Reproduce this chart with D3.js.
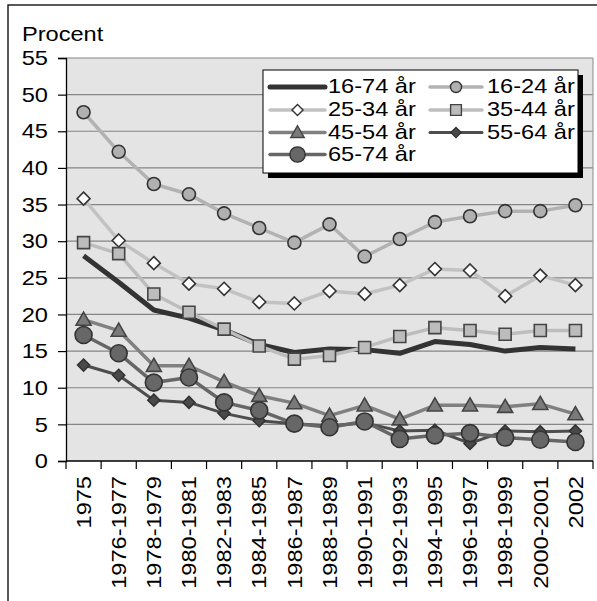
<!DOCTYPE html>
<html><head><meta charset="utf-8">
<script src="https://cdn.jsdelivr.net/npm/d3@7"></script>
<style>body{margin:0;background:#fff}svg{display:block}text{font-family:"Liberation Sans",Arial,sans-serif;fill:#000}</style>
</head><body>
<svg id="c" width="597" height="601"></svg>
<script>
const categories = ["1975","1976-1977","1978-1979","1980-1981","1982-1983","1984-1985","1986-1987","1988-1989","1990-1991","1992-1993","1994-1995","1996-1997","1998-1999","2000-2001","2002"];
const yTicks = [0,5,10,15,20,25,30,35,40,45,50,55];
const s16_74 = [28.0,24.4,20.6,19.5,17.9,15.9,14.8,15.3,15.2,14.7,16.3,15.9,15.0,15.5,15.3];
const s16_24 = [47.6,42.2,37.8,36.4,33.8,31.8,29.8,32.3,27.9,30.3,32.6,33.4,34.1,34.1,34.9];
const s25_34 = [35.8,30.1,27.0,24.2,23.5,21.7,21.5,23.2,22.8,24.0,26.2,26.0,22.5,25.3,24.0];
const s35_44 = [29.8,28.3,22.8,20.3,18.0,15.7,13.9,14.4,15.5,17.0,18.2,17.8,17.3,17.8,17.8];
const s45_54 = [19.3,17.8,13.0,13.0,10.8,8.9,7.9,6.2,7.6,5.7,7.6,7.6,7.4,7.8,6.4];
const s55_64 = [13.1,11.7,8.3,8.0,6.5,5.5,5.1,4.8,5.2,4.1,4.2,2.4,4.1,4.0,4.1];
const s65_74 = [17.2,14.7,10.7,11.4,8.0,6.9,5.1,4.6,5.4,3.0,3.5,3.8,3.2,2.9,2.6];
const seriesNames = ["16-74 år","16-24 år","25-34 år","35-44 år","45-54 år","55-64 år","65-74 år"];
const yTitle = "Procent";

const FS = 20, SX = 1.18;
const markerPaths = {
  none: null,
  circle: r => `M${r},0A${r},${r} 0 1,1 ${-r},0A${r},${r} 0 1,1 ${r},0Z`,
  diamond: h => `M0,${-h}L${h},0L0,${h}L${-h},0Z`,
  square: h => `M${-h},${-h}H${h}V${h}H${-h}Z`,
  triangle: h => `M0,${-h}L${h},${h*0.75}L${-h},${h*0.75}Z`
};
const series = [
  {name:seriesNames[0], values:s16_74, line:"#333333", lw:5, marker:"none"},
  {name:seriesNames[1], values:s16_24, line:"#b2b2b2", lw:3.5, marker:"circle", ms:6.5, fill:"#b0b0b0", stroke:"#333"},
  {name:seriesNames[2], values:s25_34, line:"#c2c2c2", lw:3.5, marker:"diamond", ms:6.5, fill:"#ffffff", stroke:"#333"},
  {name:seriesNames[3], values:s35_44, line:"#bdbdbd", lw:3.5, marker:"square", ms:6, fill:"#bcbcbc", stroke:"#444"},
  {name:seriesNames[4], values:s45_54, line:"#808080", lw:3.5, marker:"triangle", ms:7.5, fill:"#7a7a7a", stroke:"#444"},
  {name:seriesNames[5], values:s55_64, line:"#4d4d4d", lw:3, marker:"diamond", ms:6, fill:"#4a4a4a", stroke:"#333"},
  {name:seriesNames[6], values:s65_74, line:"#666666", lw:3.5, marker:"circle", ms:8.5, fill:"#676767", stroke:"#333"}
];

const svg = d3.select("#c");
const L = 66, R = 593, T = 58, B = 461;
const x = d3.scaleBand().domain(categories).range([L, R]);
const y = d3.scaleLinear().domain([0,55]).range([B, T]);

// outer frame
svg.append("rect").attr("x",8).attr("y",5).attr("width",700).attr("height",700)
  .attr("fill","#fff").attr("stroke","#000").attr("stroke-width",1.3);

// plot area
svg.append("rect").attr("x",L).attr("y",T).attr("width",R-L).attr("height",B-T).attr("fill","#e4e4e4");
svg.append("g").selectAll("line").data(yTicks.filter(d=>d>0)).join("line")
  .attr("x1",L).attr("x2",R).attr("y1",d=>y(d)).attr("y2",d=>y(d))
  .attr("stroke","#858585").attr("stroke-width",1.2);
svg.append("line").attr("x1",R).attr("x2",R).attr("y1",T).attr("y2",B).attr("stroke","#9a9a9a").attr("stroke-width",1.2);

// y axis
const ya = svg.append("g").attr("transform",`translate(${L},0)`)
  .call(d3.axisLeft(y).tickValues(yTicks).tickSize(8).tickFormat(""));
ya.select(".domain").attr("stroke","#000").attr("stroke-width",1.3);
ya.selectAll(".tick line").attr("stroke","#000").attr("stroke-width",1.2);
svg.append("g").selectAll("text").data(yTicks).join("text")
  .attr("transform",d=>`translate(48,${y(d)}) scale(${SX},1)`)
  .attr("dy","0.36em").attr("text-anchor","end").attr("font-size",FS).text(d=>d);

// x axis
const bounds = categories.map(c=>x(c)).concat([R]);
svg.append("line").attr("x1",L).attr("x2",R).attr("y1",B).attr("y2",B).attr("stroke","#000").attr("stroke-width",1.3);
svg.append("g").selectAll("line").data(bounds).join("line")
  .attr("x1",d=>d).attr("x2",d=>d).attr("y1",B).attr("y2",B+8).attr("stroke","#000").attr("stroke-width",1.2);
svg.append("g").selectAll("text").data(categories).join("text")
  .attr("transform",d=>`translate(${x(d)+x.bandwidth()/2},476) rotate(-90) scale(${SX},1)`)
  .attr("dy","0.36em").attr("text-anchor","end").attr("font-size",FS).text(d=>d);

// y title
svg.append("text").attr("transform",`translate(22,41) scale(${SX},1)`).attr("font-size",FS).text(yTitle);

// series
const cx = i => x(categories[i]) + x.bandwidth()/2;
series.forEach(s => {
  const g = svg.append("g");
  g.append("path").datum(s.values)
    .attr("d", d3.line().x((d,i)=>cx(i)).y(d=>y(d)))
    .attr("fill","none").attr("stroke",s.line).attr("stroke-width",s.lw).attr("stroke-linejoin","round");
  if (s.marker !== "none") {
    g.selectAll("path.m").data(s.values).join("path").attr("class","m")
      .attr("transform",(d,i)=>`translate(${cx(i)},${y(d)})`)
      .attr("d", markerPaths[s.marker](s.ms))
      .attr("fill",s.fill).attr("stroke",s.stroke).attr("stroke-width",1.6);
  }
});

// legend
const lg = svg.append("g");
lg.append("rect").attr("x",268).attr("y",75).attr("width",315).attr("height",103).attr("fill","#000");
lg.append("rect").attr("x",263).attr("y",70).attr("width",315).attr("height",103).attr("fill","#fff").attr("stroke","#000").attr("stroke-width",1);
const rowsY = [86, 109, 131.5, 153.5];
series.forEach((s,k) => {
  const col = k % 2, row = Math.floor(k/2);
  const x0 = col ? 430 : 270, x1 = col ? 482 : 325, tx = col ? 487 : 328;
  const yy = rowsY[row];
  lg.append("line").attr("x1",x0).attr("x2",x1).attr("y1",yy+1).attr("y2",yy+1)
    .attr("stroke",s.line).attr("stroke-width",s.lw).attr("stroke-linecap","round");
  if (s.marker !== "none") {
    const scale = s.marker==="circle" && s.ms<7 ? 0.85 : (s.marker==="diamond" ? 0.85 : 0.9);
    lg.append("path").attr("transform",`translate(${(x0+x1)/2},${yy+1})`)
      .attr("d", markerPaths[s.marker](s.ms*scale))
      .attr("fill",s.fill).attr("stroke",s.stroke).attr("stroke-width",1.4);
  }
  lg.append("text").attr("transform",`translate(${tx},${yy}) scale(${SX},1)`)
    .attr("dy","0.36em").attr("font-size",FS).text(s.name);
});
</script>
</body></html>
